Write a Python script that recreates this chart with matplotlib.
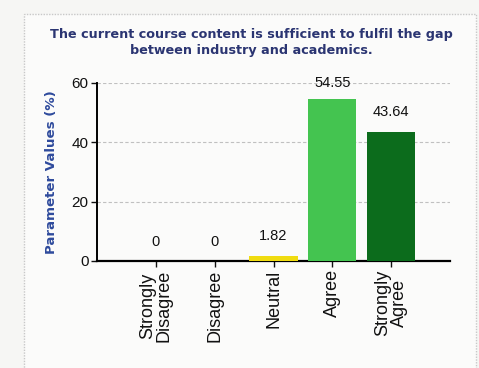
import matplotlib.pyplot as plt
from matplotlib.patches import Rectangle

categories = ['Strongly\nDisagree', 'Disagree', 'Neutral', 'Agree', 'Strongly\nAgree']
values = [0, 0, 1.82, 54.55, 43.64]
value_labels = ['0', '0', '1.82', '54.55', '43.64']
bar_colors = ['#3fbf4a', '#3fbf4a', '#f0dc10', '#44c450', '#0c6c1c']
y_ticks = [0, 20, 40, 60]

title = 'The current course content is sufficient to fulfil the gap\nbetween industry and academics.'

fig = plt.figure(figsize=(4.79, 3.68), dpi=100, facecolor='#f6f6f4')

# dotted panel frame around the chart, kept behind the axes
frame = Rectangle((24 / 479, -0.05), 452 / 479, 1 - 14 / 368 + 0.05,
                  transform=fig.transFigure, fill=True,
                  facecolor='#fbfbfa', edgecolor='#c8c8c8',
                  linewidth=1.0, linestyle=(0, (1, 1)), zorder=-10)
fig.patches.append(frame)

fig.text(0.524, 1 - 42.5 / 368, title, ha='center', va='center',
         fontsize=9.2, fontweight='bold', color='#2b3572',
         family='DejaVu Sans', linespacing=1.3)

ax = fig.add_axes([97 / 479, 1 - 261 / 368, 353 / 479, 178 / 368])
ax.set_facecolor('none')

x = range(len(categories))
ax.bar(x, values, width=0.82, color=bar_colors, zorder=3)

# value labels sit above each bar but stay inside the plot area
for xi, v, lbl in zip(x, values, value_labels):
    ax.text(xi, min(v + 4.2, 57.6), lbl, ha='center', va='bottom', fontsize=10.5,
            family='Liberation Sans', color='#111111')

ax.set_xlim(-1.0, 5.0)
ax.set_ylim(0, 60)
ax.set_yticks(y_ticks)
ax.set_yticklabels([str(t) for t in y_ticks], fontsize=11, family='Liberation Sans')
ax.set_xticks(list(x))
ax.set_xticklabels(categories, rotation=90, fontsize=13, family='Liberation Sans',
                   linespacing=0.95, ha='center', va='top', multialignment='center')

ax.yaxis.grid(True, color='#c0c0c0', linestyle=(0, (3, 2)), linewidth=0.8, zorder=0)
ax.set_axisbelow(True)

for side in ('top', 'right'):
    ax.spines[side].set_visible(False)
ax.spines['left'].set_linewidth(1.4)
ax.spines['bottom'].set_linewidth(1.6)
ax.tick_params(axis='both', direction='out', length=4, width=1, pad=2, colors='#111111')

ax.set_ylabel('Parameter Values (%)', fontsize=9.6, fontweight='bold',
              color='#2e4a9c', family='DejaVu Sans', labelpad=10)

fig.savefig('out.png', dpi=100, facecolor=fig.get_facecolor())
